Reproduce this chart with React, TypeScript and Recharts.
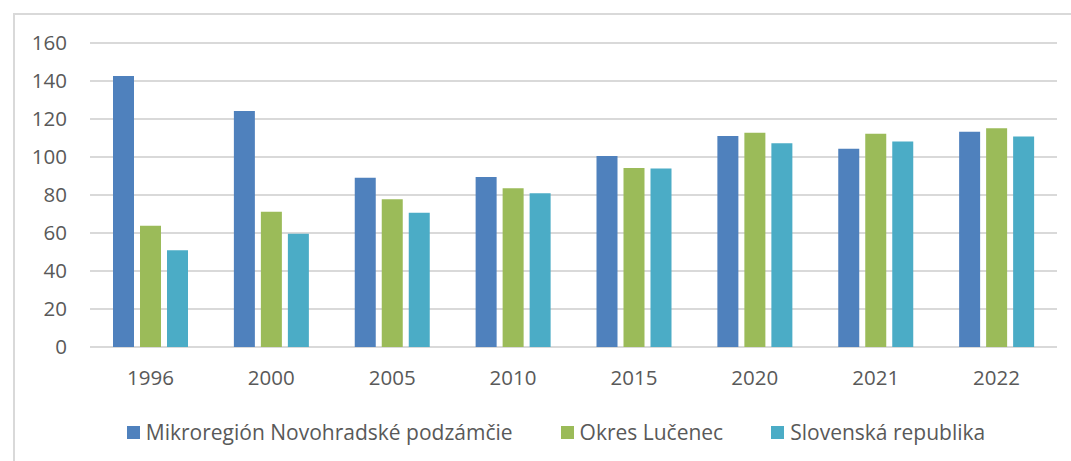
import React from "react";
import { BarChart, Bar, XAxis, YAxis, CartesianGrid, Legend } from "recharts";

const years = ["1996", "2000", "2005", "2010", "2015", "2020", "2021", "2022"];
const mikroregion = [142.6, 124.2, 89.1, 89.5, 100.5, 111.1, 104.3, 113.3];
const okres = [63.8, 71.2, 77.7, 83.5, 94.2, 112.8, 112.3, 115.1];
const slovensko = [50.9, 59.6, 70.7, 80.9, 94.0, 107.2, 108.1, 110.8];
const yTicks = [0, 20, 40, 60, 80, 100, 120, 140, 160];

const seriesNames = ["Mikroregión Novohradské podzámčie", "Okres Lučenec", "Slovenská republika"];
const seriesColors = ["#4f81bd", "#9bbb59", "#4bacc6"];

const data = years.map((y, i) => ({
  year: y,
  a: mikroregion[i],
  b: okres[i],
  c: slovensko[i],
}));

const FONT = "'Open Sans', sans-serif";
const TEXT = "#595959";

const LegendContent = () => (
  <div
    style={{
      display: "flex",
      justifyContent: "center",
      alignItems: "center",
      height: 30,
      paddingLeft: 55,
      boxSizing: "border-box",
      fontFamily: FONT,
      fontSize: 21,
      color: TEXT,
      whiteSpace: "nowrap",
    }}
  >
    {seriesNames.map((n, i) => (
      <div key={n} style={{ display: "flex", alignItems: "center", marginRight: i < 2 ? 48 : 0 }}>
        <span style={{ display: "inline-block", width: 13, height: 13, background: seriesColors[i], marginRight: 6 }} />
        <span>{n}</span>
      </div>
    ))}
  </div>
);

export default function App() {
  return (
    <div style={{ position: "absolute", left: 0, top: 0, width: 1071, height: 461, background: "#fff", overflow: "hidden" }}>
      <div
        style={{
          position: "absolute",
          left: 13,
          top: 13,
          width: 1071,
          height: 461,
          borderLeft: "2px solid #d9d9d9",
          borderTop: "2px solid #d9d9d9",
        }}
      />
      <div style={{ position: "absolute", left: 0, top: 0 }}>
        <BarChart
          width={1071}
          height={461}
          data={data}
          margin={{ top: 43, right: 14, left: 0, bottom: 14 }}
          barSize={21}
          barGap={6}
        >
          <CartesianGrid vertical={false} stroke="#d9d9d9" strokeWidth={2} />
          <XAxis
            dataKey="year"
            axisLine={false}
            tickLine={false}
            tickSize={0}
            tickMargin={23}
            height={70}
            interval={0}
            tick={{ fill: TEXT, fontSize: 20.5, fontFamily: FONT }}
          />
          <YAxis
            width={90}
            domain={[0, 160]}
            ticks={yTicks}
            axisLine={false}
            tickLine={false}
            tickSize={0}
            tickMargin={23}
            interval={0}
            tick={{ fill: TEXT, fontSize: 20.5, fontFamily: FONT }}
          />
          <Legend verticalAlign="bottom" height={30} content={<LegendContent />} />
          <Bar dataKey="a" name={seriesNames[0]} fill={seriesColors[0]} isAnimationActive={false} />
          <Bar dataKey="b" name={seriesNames[1]} fill={seriesColors[1]} isAnimationActive={false} />
          <Bar dataKey="c" name={seriesNames[2]} fill={seriesColors[2]} isAnimationActive={false} />
        </BarChart>
      </div>
    </div>
  );
}
